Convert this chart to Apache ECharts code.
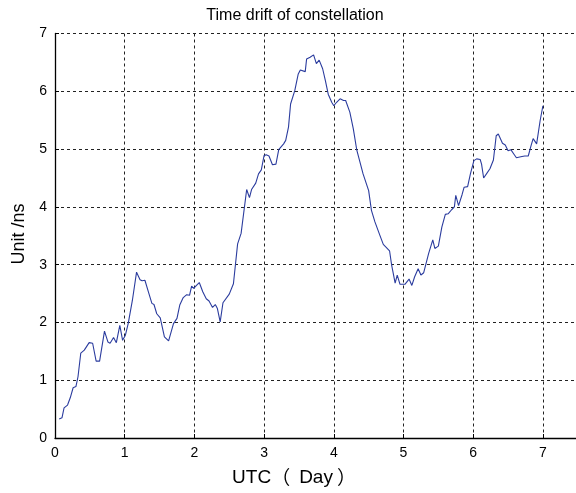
<!DOCTYPE html>
<html>
<head>
<meta charset="utf-8">
<script src="https://cdn.jsdelivr.net/npm/echarts@6/dist/echarts.min.js"></script>
<style>html,body{margin:0;padding:0;background:#fff}#c{width:576px;height:493px}</style>
</head>
<body>
<div id="c"></div>
<script>
const days = [0.06,0.10,0.13,0.18,0.22,0.26,0.30,0.33,0.37,0.42,0.49,0.54,0.59,0.64,0.71,0.76,0.79,0.84,0.88,0.93,0.97,1.01,1.05,1.11,1.17,1.22,1.25,1.29,1.34,1.39,1.42,1.46,1.51,1.57,1.63,1.70,1.75,1.79,1.84,1.89,1.93,1.96,1.99,2.03,2.07,2.12,2.17,2.21,2.26,2.30,2.33,2.37,2.41,2.50,2.56,2.62,2.67,2.75,2.79,2.82,2.88,2.92,2.96,3.00,3.03,3.07,3.12,3.17,3.21,3.28,3.31,3.35,3.38,3.44,3.49,3.52,3.59,3.61,3.66,3.71,3.75,3.79,3.84,3.88,3.92,3.97,4.00,4.04,4.09,4.14,4.17,4.23,4.28,4.33,4.42,4.50,4.54,4.59,4.66,4.71,4.80,4.83,4.88,4.91,4.95,5.02,5.08,5.12,5.16,5.21,5.25,5.29,5.36,5.42,5.45,5.50,5.55,5.60,5.64,5.69,5.73,5.75,5.79,5.84,5.87,5.92,5.96,6.01,6.05,6.10,6.12,6.15,6.19,6.24,6.29,6.33,6.36,6.42,6.46,6.50,6.54,6.58,6.62,6.70,6.74,6.79,6.83,6.86,6.91,6.96,7.00];
const drift = [0.33,0.35,0.52,0.57,0.70,0.87,0.89,1.06,1.47,1.52,1.65,1.64,1.33,1.33,1.85,1.66,1.64,1.74,1.65,1.95,1.69,1.78,1.98,2.38,2.87,2.74,2.72,2.73,2.53,2.33,2.31,2.15,2.08,1.75,1.68,1.98,2.07,2.30,2.43,2.48,2.47,2.63,2.59,2.64,2.69,2.53,2.41,2.37,2.26,2.31,2.24,2.01,2.34,2.49,2.67,3.36,3.54,4.30,4.16,4.30,4.41,4.57,4.64,4.89,4.90,4.88,4.73,4.74,4.99,5.09,5.15,5.38,5.78,6.01,6.30,6.37,6.34,6.56,6.59,6.63,6.48,6.54,6.39,6.18,5.95,5.81,5.75,5.81,5.87,5.84,5.84,5.64,5.35,4.98,4.57,4.28,3.94,3.74,3.51,3.35,3.24,2.99,2.68,2.82,2.66,2.66,2.75,2.64,2.79,2.93,2.82,2.86,3.19,3.43,3.28,3.32,3.65,3.87,3.88,3.95,4.00,4.20,4.02,4.21,4.34,4.35,4.57,4.80,4.83,4.82,4.74,4.50,4.57,4.66,4.81,5.23,5.26,5.10,5.07,4.97,4.99,4.92,4.85,4.87,4.88,4.88,5.06,5.18,5.09,5.49,5.75];
const xTicks = [0,1,2,3,4,5,6,7];
const yTicks = [0,1,2,3,4,5,6,7];
const titleText = 'Time drift of constellation';
const yName = 'Unit /ns';

const font = 'Liberation Sans, Arial, sans-serif';
const cjk = '"Noto Sans CJK SC", sans-serif';
const chart = echarts.init(document.getElementById('c'), null, {renderer: 'canvas'});
const gridLine = {show: true, lineStyle: {color: '#222', width: 1, type: [3, 3]}};
chart.setOption({
  animation: false,
  backgroundColor: '#fff',
  grid: {left: 55, top: 33.5, height: 404.5, width: 522.75, outerBoundsMode: 'none', containLabel: false},
  graphic: [
    {type: 'text', x: 295, y: 16, style: {text: titleText, font: '16px ' + font, fill: '#000', align: 'center', verticalAlign: 'middle'}},
    {type: 'text', x: 294, y: 478, style: {
      text: '{a|UTC}{p|（}{a|Day}{q|）}', align: 'center', verticalAlign: 'middle',
      rich: {
        a: {fontFamily: font, fontSize: 19, color: '#000'},
        p: {fontFamily: cjk, fontSize: 19, color: '#000', padding: [0, 9, 0, 0]},
        q: {fontFamily: cjk, fontSize: 19, color: '#000', padding: [0, 0, 0, 4]}
      }
    }},
    {type: 'text', x: 19, y: 234, rotation: Math.PI / 2, style: {text: yName, font: '18px ' + font, fill: '#000', align: 'center', verticalAlign: 'middle'}}
  ],
  xAxis: {
    type: 'value', min: 0, max: 7.5, interval: 1,
    axisLine: {show: true, onZero: false, lineStyle: {color: '#000', width: 1.3}},
    axisTick: {show: true, inside: true, length: 4, lineStyle: {color: '#000'}},
    axisLabel: {
      color: '#000', fontSize: 14, fontFamily: font, margin: 8,
      formatter: v => xTicks.includes(v) ? String(v) : ''
    },
    splitLine: gridLine
  },
  yAxis: {
    type: 'value', min: 0, max: 7, interval: 1,
    axisLine: {show: true, onZero: false, lineStyle: {color: '#000', width: 1.3}},
    axisTick: {show: true, inside: true, length: 4, lineStyle: {color: '#000'}},
    axisLabel: {
      color: '#000', fontSize: 14, fontFamily: font, margin: 8,
      formatter: v => yTicks.includes(v) ? String(v) : ''
    },
    splitLine: gridLine
  },
  series: [{
    type: 'line',
    data: days.map((d, i) => [d, drift[i]]),
    showSymbol: false,
    symbol: 'none',
    lineStyle: {color: '#2b3c9e', width: 1.1},
    z: 5
  }]
});
</script>
</body>
</html>
